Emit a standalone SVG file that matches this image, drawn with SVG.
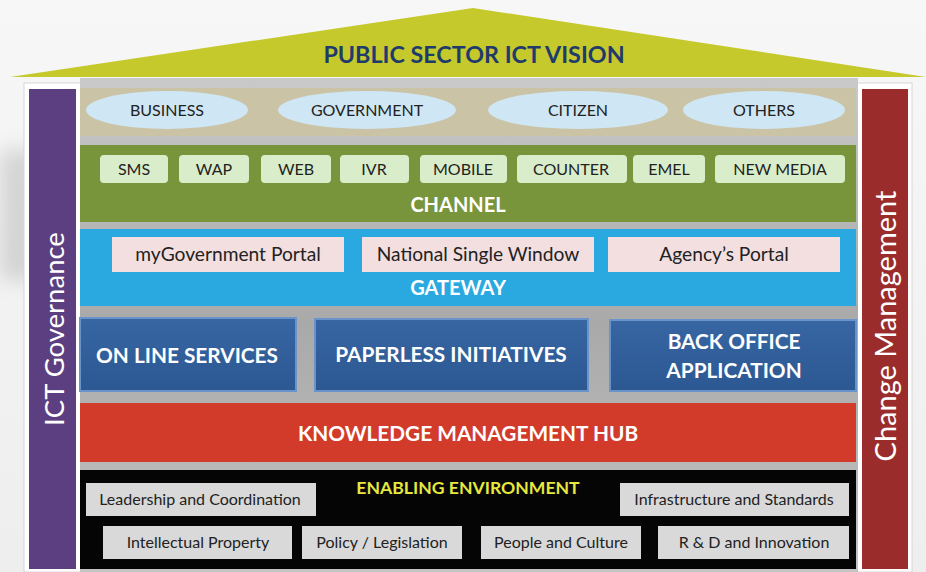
<svg xmlns="http://www.w3.org/2000/svg" width="926" height="572" viewBox="0 0 926 572">
<defs>
<linearGradient id="bg" x1="0" y1="0" x2="0" y2="1"><stop offset="0" stop-color="#f7f7f7"/><stop offset="1" stop-color="#eeeeee"/></linearGradient>
<linearGradient id="silver" x1="0" y1="0" x2="0" y2="1"><stop offset="0" stop-color="#c9c9c9"/><stop offset="0.5" stop-color="#a9a9a9"/><stop offset="1" stop-color="#c4c4c4"/></linearGradient>
<linearGradient id="blueBox" x1="0" y1="0" x2="0" y2="1"><stop offset="0" stop-color="#3766a3"/><stop offset="1" stop-color="#2c5892"/></linearGradient>
<filter id="blur" x="-50%" y="-50%" width="200%" height="200%"><feGaussianBlur stdDeviation="10"/></filter>
</defs>
<style>
text{font-family:"Lato","Open Sans","Liberation Sans",sans-serif;}
.oval{fill:#cfe6f4;}
.ch{fill:#d9edca;}
.pk{fill:#f3dfe0;}
.ee{fill:#d9d9d9;}
.dk{fill:#222;font-size:16px;text-anchor:middle;}
.gw{fill:#222;font-size:19.2px;text-anchor:middle;}
.wb{fill:#fff;font-weight:bold;text-anchor:middle;}
</style>
<rect x="0" y="0" width="926" height="572" fill="url(#bg)"/>
<rect x="0" y="150" width="40" height="130" fill="#9a9a9a" opacity="0.35" filter="url(#blur)"/>

<g id="roof">
<polygon points="10,77 473,8 926,77" fill="#c5c92c"/>
<text x="474" y="63" text-anchor="middle" font-size="23.3" font-weight="bold" fill="#1f3b6b">PUBLIC SECTOR ICT VISION</text>
</g>

<rect x="24" y="83" width="888" height="489" fill="#ffffff" stroke="#d6d6d6"/>
<rect x="80" y="78" width="778" height="494" fill="url(#silver)"/>

<g id="ict-governance">
<rect x="29" y="89" width="47" height="480" fill="#5c3f80"/>
<text transform="translate(64,329) rotate(-90)" text-anchor="middle" font-size="27.5" fill="#fff">ICT Governance</text>
</g>
<g id="change-management">
<rect x="862" y="89" width="46" height="480" fill="#9a2d2c"/>
<text transform="translate(896,326) rotate(-90)" text-anchor="middle" font-size="29" fill="#fff">Change Management</text>
</g>

<g id="stakeholders">
<rect x="80" y="88" width="776" height="48" fill="#cbc3a5"/>
<ellipse class="oval" cx="167" cy="110" rx="81" ry="19"/>
<text class="dk" x="167" y="116">BUSINESS</text>
<ellipse class="oval" cx="367" cy="110" rx="89" ry="19"/>
<text class="dk" x="367" y="116">GOVERNMENT</text>
<ellipse class="oval" cx="578" cy="110" rx="90" ry="19"/>
<text class="dk" x="578" y="116">CITIZEN</text>
<ellipse class="oval" cx="764" cy="110" rx="81" ry="19"/>
<text class="dk" x="764" y="116">OTHERS</text>
</g>

<g id="channel">
<rect x="80" y="145" width="776" height="77" fill="#78953b"/>
<rect class="ch" x="100" y="155" width="68" height="28" rx="4"/><text class="dk" x="134" y="175">SMS</text>
<rect class="ch" x="179" y="155" width="70" height="28" rx="4"/><text class="dk" x="214" y="175">WAP</text>
<rect class="ch" x="261" y="155" width="70" height="28" rx="4"/><text class="dk" x="296" y="175">WEB</text>
<rect class="ch" x="340" y="155" width="69" height="28" rx="4"/><text class="dk" x="374" y="175">IVR</text>
<rect class="ch" x="420" y="155" width="87" height="28" rx="4"/><text class="dk" x="463" y="175">MOBILE</text>
<rect class="ch" x="517" y="155" width="110" height="28" rx="4"/><text class="dk" x="571" y="175">COUNTER</text>
<rect class="ch" x="633" y="155" width="72" height="28" rx="4"/><text class="dk" x="669" y="175">EMEL</text>
<rect class="ch" x="715" y="155" width="130" height="28" rx="4"/><text class="dk" x="780" y="175">NEW MEDIA</text>
<text class="wb" x="458" y="212" font-size="20">CHANNEL</text>
</g>

<g id="gateway">
<rect x="80" y="229" width="776" height="77" fill="#2aa9e1"/>
<rect class="pk" x="112" y="237" width="232" height="35"/><text class="gw" x="228" y="261">myGovernment Portal</text>
<rect class="pk" x="362" y="237" width="232" height="35"/><text class="gw" x="478" y="261">National Single Window</text>
<rect class="pk" x="608" y="237" width="232" height="35"/><text class="gw" x="724" y="261">Agency’s Portal</text>
<text class="wb" x="458" y="295" font-size="20">GATEWAY</text>
</g>

<g id="online-services">
<rect x="80" y="318" width="216" height="73" fill="url(#blueBox)" stroke="#6a93c9" stroke-width="2"/>
<text class="wb" x="187" y="363" font-size="20.8">ON LINE SERVICES</text>
</g>
<g id="paperless-initiatives">
<rect x="315" y="319" width="273" height="72" fill="url(#blueBox)" stroke="#6a93c9" stroke-width="2"/>
<text class="wb" x="451" y="362" font-size="20.8">PAPERLESS INITIATIVES</text>
</g>
<g id="back-office-application">
<rect x="610" y="320" width="246" height="71" fill="url(#blueBox)" stroke="#6a93c9" stroke-width="2"/>
<text class="wb" x="734" y="349" font-size="20.8">BACK OFFICE</text>
<text class="wb" x="734" y="378" font-size="20.8">APPLICATION</text>
</g>

<g id="knowledge-management-hub">
<rect x="80" y="403" width="776" height="59" fill="#d23a29"/>
<text class="wb" x="468" y="441" font-size="20.8" fill="#fdf3e6">KNOWLEDGE MANAGEMENT HUB</text>
</g>

<g id="enabling-environment">
<rect x="80" y="470" width="776" height="99" fill="#050505"/>
<text x="468" y="494" text-anchor="middle" font-size="17.6" font-weight="bold" fill="#e6e83f">ENABLING ENVIRONMENT</text>
<rect class="ee" x="86" y="483" width="230" height="33"/><text class="dk" x="200" y="505">Leadership and Coordination</text>
<rect class="ee" x="620" y="483" width="229" height="33"/><text class="dk" x="734" y="505">Infrastructure and Standards</text>
<rect class="ee" x="103" y="526" width="189" height="33"/><text class="dk" x="198" y="548">Intellectual Property</text>
<rect class="ee" x="302" y="526" width="160" height="33"/><text class="dk" x="382" y="548">Policy / Legislation</text>
<rect class="ee" x="481" y="526" width="160" height="33"/><text class="dk" x="561" y="548">People and Culture</text>
<rect class="ee" x="658" y="526" width="191" height="33"/><text class="dk" x="754" y="548">R &amp; D and Innovation</text>
</g>
</svg>
